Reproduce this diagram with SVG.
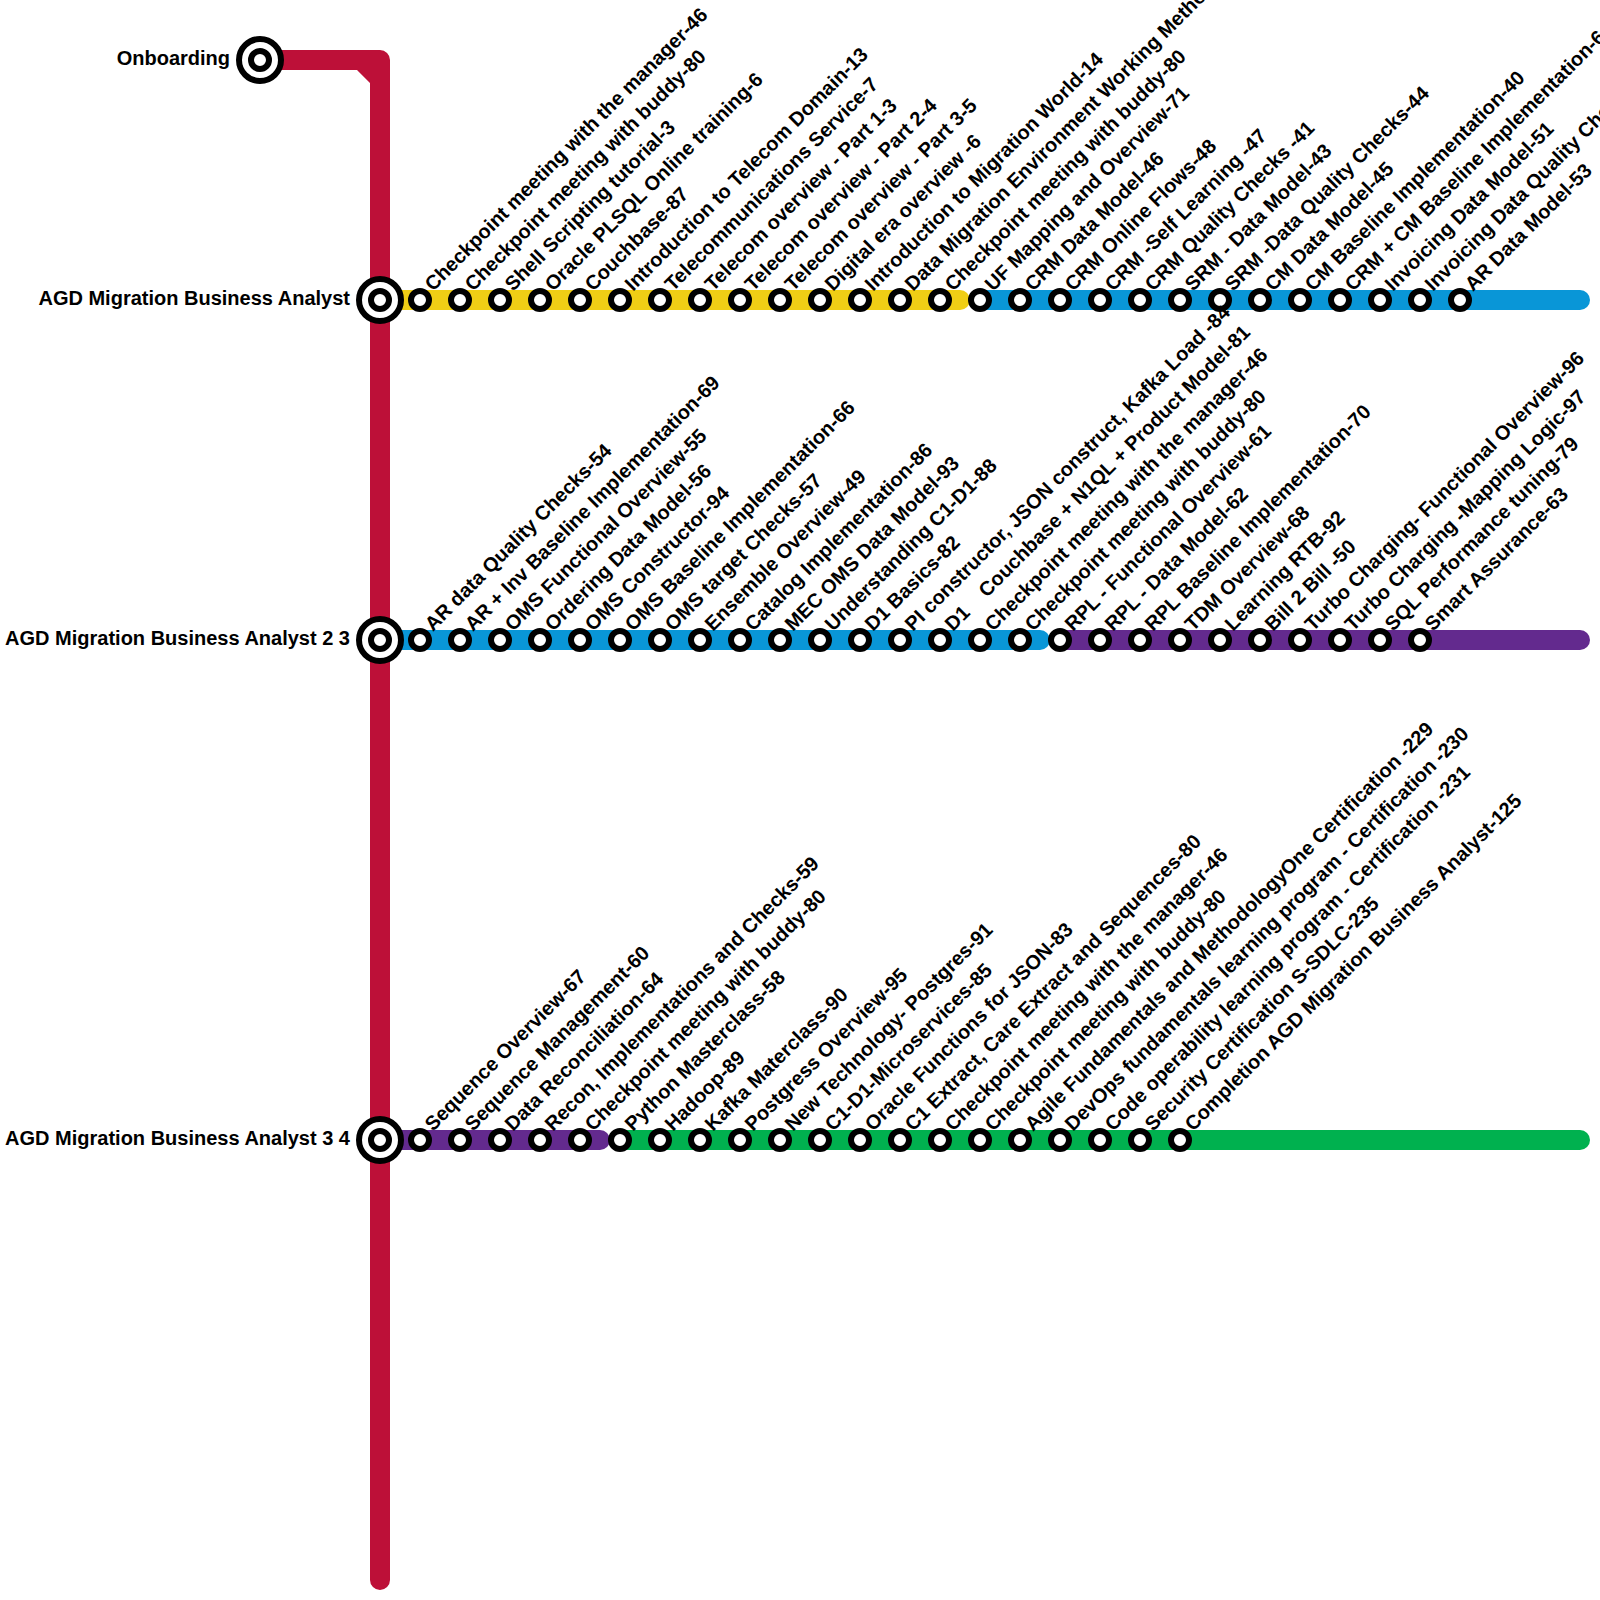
<svg xmlns="http://www.w3.org/2000/svg" width="1600" height="1600" viewBox="0 0 1600 1600">
<style>
text{font-family:"Liberation Sans",Arial,sans-serif;font-weight:bold;font-size:20px;fill:#000;white-space:pre}
.end{text-anchor:end}
.st{fill:#fff;stroke:#000;stroke-width:6}
.red{fill:#bd1038}.yel{fill:#f0ce15}.blu{fill:#0996d7}.pur{fill:#632a8e}.grn{fill:#00b14f}
</style>
<rect width="1600" height="1600" fill="#fff"/>
<g id="connectors">
<path class="red" d="M270 50H380A10 10 0 0 1 390 60V1580A10 10 0 0 1 370 1580V83L357 70H270Z"/>
<rect class="yel" x="380" y="290" width="590" height="20" rx="10"/>
<rect class="blu" x="970" y="290" width="620" height="20" rx="10"/>
<rect class="blu" x="380" y="630" width="670" height="20" rx="10"/>
<rect class="pur" x="1050" y="630" width="540" height="20" rx="10"/>
<rect class="pur" x="380" y="1130" width="230" height="20" rx="10"/>
<rect class="grn" x="610" y="1130" width="980" height="20" rx="10"/>
</g>
<g id="node-onboarding"><circle class="st" cx="260" cy="60" r="21"/><circle class="st" cx="260" cy="60" r="9"/><text class="end" x="230" y="65">Onboarding</text></g>
<g id="node-ba1"><circle class="st" cx="380" cy="300" r="21"/><circle class="st" cx="380" cy="300" r="9"/><text class="end" x="350" y="305">AGD Migration Business Analyst</text></g>
<g id="node-ba2"><circle class="st" cx="380" cy="640" r="21"/><circle class="st" cx="380" cy="640" r="9"/><text class="end" x="350" y="645">AGD Migration Business Analyst 2 3</text></g>
<g id="node-ba3"><circle class="st" cx="380" cy="1140" r="21"/><circle class="st" cx="380" cy="1140" r="9"/><text class="end" x="350" y="1145">AGD Migration Business Analyst 3 4</text></g>
<g id="row1">
<g id="r1-0"><circle class="st" cx="420" cy="300" r="9"/><text transform="translate(433 292) rotate(-45)">Checkpoint meeting with the manager-46</text></g>
<g id="r1-1"><circle class="st" cx="460" cy="300" r="9"/><text transform="translate(473 292) rotate(-45)">Checkpoint meeting with buddy-80</text></g>
<g id="r1-2"><circle class="st" cx="500" cy="300" r="9"/><text transform="translate(513 292) rotate(-45)">Shell Scripting tutorial-3</text></g>
<g id="r1-3"><circle class="st" cx="540" cy="300" r="9"/><text transform="translate(553 292) rotate(-45)">Oracle PLSQL Online training-6</text></g>
<g id="r1-4"><circle class="st" cx="580" cy="300" r="9"/><text transform="translate(593 292) rotate(-45)">Couchbase-87</text></g>
<g id="r1-5"><circle class="st" cx="620" cy="300" r="9"/><text transform="translate(633 292) rotate(-45)">Introduction to Telecom Domain-13</text></g>
<g id="r1-6"><circle class="st" cx="660" cy="300" r="9"/><text transform="translate(673 292) rotate(-45)">Telecommunications Service-7</text></g>
<g id="r1-7"><circle class="st" cx="700" cy="300" r="9"/><text transform="translate(713 292) rotate(-45)">Telecom overview - Part 1-3</text></g>
<g id="r1-8"><circle class="st" cx="740" cy="300" r="9"/><text transform="translate(753 292) rotate(-45)">Telecom overview - Part 2-4</text></g>
<g id="r1-9"><circle class="st" cx="780" cy="300" r="9"/><text transform="translate(793 292) rotate(-45)">Telecom overview - Part 3-5</text></g>
<g id="r1-10"><circle class="st" cx="820" cy="300" r="9"/><text transform="translate(833 292) rotate(-45)">Digital era overview -6</text></g>
<g id="r1-11"><circle class="st" cx="860" cy="300" r="9"/><text transform="translate(873 292) rotate(-45)">Introduction to Migration World-14</text></g>
<g id="r1-12"><circle class="st" cx="900" cy="300" r="9"/><text transform="translate(913 292) rotate(-45)">Data Migration Environment Working Methods</text></g>
<g id="r1-13"><circle class="st" cx="940" cy="300" r="9"/><text transform="translate(953 292) rotate(-45)">Checkpoint meeting with buddy-80</text></g>
<g id="r1-14"><circle class="st" cx="980" cy="300" r="9"/><text transform="translate(993 292) rotate(-45)">UF Mapping and Overview-71</text></g>
<g id="r1-15"><circle class="st" cx="1020" cy="300" r="9"/><text transform="translate(1033 292) rotate(-45)">CRM Data Model-46</text></g>
<g id="r1-16"><circle class="st" cx="1060" cy="300" r="9"/><text transform="translate(1073 292) rotate(-45)">CRM Online Flows-48</text></g>
<g id="r1-17"><circle class="st" cx="1100" cy="300" r="9"/><text transform="translate(1113 292) rotate(-45)">CRM -Self Learning -47</text></g>
<g id="r1-18"><circle class="st" cx="1140" cy="300" r="9"/><text transform="translate(1153 292) rotate(-45)">CRM Quality Checks -41</text></g>
<g id="r1-19"><circle class="st" cx="1180" cy="300" r="9"/><text transform="translate(1193 292) rotate(-45)">SRM - Data Model-43</text></g>
<g id="r1-20"><circle class="st" cx="1220" cy="300" r="9"/><text transform="translate(1233 292) rotate(-45)">SRM -Data Quality Checks-44</text></g>
<g id="r1-21"><circle class="st" cx="1260" cy="300" r="9"/><text transform="translate(1273 292) rotate(-45)">CM Data Model-45</text></g>
<g id="r1-22"><circle class="st" cx="1300" cy="300" r="9"/><text transform="translate(1313 292) rotate(-45)">CM Baseline Implementation-40</text></g>
<g id="r1-23"><circle class="st" cx="1340" cy="300" r="9"/><text transform="translate(1353 292) rotate(-45)">CRM + CM Baseline Implementation-6</text></g>
<g id="r1-24"><circle class="st" cx="1380" cy="300" r="9"/><text transform="translate(1393 292) rotate(-45)">Invoicing Data Model-51</text></g>
<g id="r1-25"><circle class="st" cx="1420" cy="300" r="9"/><text transform="translate(1433 292) rotate(-45)">Invoicing Data Quality Checks</text></g>
<g id="r1-26"><circle class="st" cx="1460" cy="300" r="9"/><text transform="translate(1473 292) rotate(-45)">AR Data Model-53</text></g>
</g>
<g id="row2">
<g id="r2-0"><circle class="st" cx="420" cy="640" r="9"/><text transform="translate(433 632) rotate(-45)">AR data Quality Checks-54</text></g>
<g id="r2-1"><circle class="st" cx="460" cy="640" r="9"/><text transform="translate(473 632) rotate(-45)">AR + Inv Baseline Implementation-69</text></g>
<g id="r2-2"><circle class="st" cx="500" cy="640" r="9"/><text transform="translate(513 632) rotate(-45)">OMS Functional Overview-55</text></g>
<g id="r2-3"><circle class="st" cx="540" cy="640" r="9"/><text transform="translate(553 632) rotate(-45)">Ordering Data Model-56</text></g>
<g id="r2-4"><circle class="st" cx="580" cy="640" r="9"/><text transform="translate(593 632) rotate(-45)">OMS Constructor-94</text></g>
<g id="r2-5"><circle class="st" cx="620" cy="640" r="9"/><text transform="translate(633 632) rotate(-45)">OMS Baseline Implementation-66</text></g>
<g id="r2-6"><circle class="st" cx="660" cy="640" r="9"/><text transform="translate(673 632) rotate(-45)">OMS target Checks-57</text></g>
<g id="r2-7"><circle class="st" cx="700" cy="640" r="9"/><text transform="translate(713 632) rotate(-45)">Ensemble Overview-49</text></g>
<g id="r2-8"><circle class="st" cx="740" cy="640" r="9"/><text transform="translate(753 632) rotate(-45)">Catalog Implementation-86</text></g>
<g id="r2-9"><circle class="st" cx="780" cy="640" r="9"/><text transform="translate(793 632) rotate(-45)">MEC OMS Data Model-93</text></g>
<g id="r2-10"><circle class="st" cx="820" cy="640" r="9"/><text transform="translate(833 632) rotate(-45)">Understanding C1-D1-88</text></g>
<g id="r2-11"><circle class="st" cx="860" cy="640" r="9"/><text transform="translate(873 632) rotate(-45)">D1 Basics-82</text></g>
<g id="r2-12"><circle class="st" cx="900" cy="640" r="9"/><text transform="translate(913 632) rotate(-45)">PI constructor, JSON construct, Kafka Load -84</text></g>
<g id="r2-13"><circle class="st" cx="940" cy="640" r="9"/><text transform="translate(953 632) rotate(-45)">D1    Couchbase + N1QL + Product Model-81</text></g>
<g id="r2-14"><circle class="st" cx="980" cy="640" r="9"/><text transform="translate(993 632) rotate(-45)">Checkpoint meeting with the manager-46</text></g>
<g id="r2-15"><circle class="st" cx="1020" cy="640" r="9"/><text transform="translate(1033 632) rotate(-45)">Checkpoint meeting with buddy-80</text></g>
<g id="r2-16"><circle class="st" cx="1060" cy="640" r="9"/><text transform="translate(1073 632) rotate(-45)">RPL - Functional Overview-61</text></g>
<g id="r2-17"><circle class="st" cx="1100" cy="640" r="9"/><text transform="translate(1113 632) rotate(-45)">RPL - Data Model-62</text></g>
<g id="r2-18"><circle class="st" cx="1140" cy="640" r="9"/><text transform="translate(1153 632) rotate(-45)">RPL Baseline Implementation-70</text></g>
<g id="r2-19"><circle class="st" cx="1180" cy="640" r="9"/><text transform="translate(1193 632) rotate(-45)">TDM Overview-68</text></g>
<g id="r2-20"><circle class="st" cx="1220" cy="640" r="9"/><text transform="translate(1233 632) rotate(-45)">Learning RTB-92</text></g>
<g id="r2-21"><circle class="st" cx="1260" cy="640" r="9"/><text transform="translate(1273 632) rotate(-45)">Bill 2 Bill -50</text></g>
<g id="r2-22"><circle class="st" cx="1300" cy="640" r="9"/><text transform="translate(1313 632) rotate(-45)">Turbo Charging- Functional Overview-96</text></g>
<g id="r2-23"><circle class="st" cx="1340" cy="640" r="9"/><text transform="translate(1353 632) rotate(-45)">Turbo Charging -Mapping Logic-97</text></g>
<g id="r2-24"><circle class="st" cx="1380" cy="640" r="9"/><text transform="translate(1393 632) rotate(-45)">SQL Performance tuning-79</text></g>
<g id="r2-25"><circle class="st" cx="1420" cy="640" r="9"/><text transform="translate(1433 632) rotate(-45)">Smart Assurance-63</text></g>
</g>
<g id="row3">
<g id="r3-0"><circle class="st" cx="420" cy="1140" r="9"/><text transform="translate(433 1132) rotate(-45)">Sequence Overview-67</text></g>
<g id="r3-1"><circle class="st" cx="460" cy="1140" r="9"/><text transform="translate(473 1132) rotate(-45)">Sequence Management-60</text></g>
<g id="r3-2"><circle class="st" cx="500" cy="1140" r="9"/><text transform="translate(513 1132) rotate(-45)">Data Reconciliation-64</text></g>
<g id="r3-3"><circle class="st" cx="540" cy="1140" r="9"/><text transform="translate(553 1132) rotate(-45)">Recon, Implementations and Checks-59</text></g>
<g id="r3-4"><circle class="st" cx="580" cy="1140" r="9"/><text transform="translate(593 1132) rotate(-45)">Checkpoint meeting with buddy-80</text></g>
<g id="r3-5"><circle class="st" cx="620" cy="1140" r="9"/><text transform="translate(633 1132) rotate(-45)">Python Masterclass-58</text></g>
<g id="r3-6"><circle class="st" cx="660" cy="1140" r="9"/><text transform="translate(673 1132) rotate(-45)">Hadoop-89</text></g>
<g id="r3-7"><circle class="st" cx="700" cy="1140" r="9"/><text transform="translate(713 1132) rotate(-45)">Kafka Materclass-90</text></g>
<g id="r3-8"><circle class="st" cx="740" cy="1140" r="9"/><text transform="translate(753 1132) rotate(-45)">Postgress Overview-95</text></g>
<g id="r3-9"><circle class="st" cx="780" cy="1140" r="9"/><text transform="translate(793 1132) rotate(-45)">New Technology- Postgres-91</text></g>
<g id="r3-10"><circle class="st" cx="820" cy="1140" r="9"/><text transform="translate(833 1132) rotate(-45)">C1-D1-Microservices-85</text></g>
<g id="r3-11"><circle class="st" cx="860" cy="1140" r="9"/><text transform="translate(873 1132) rotate(-45)">Oracle Functions for JSON-83</text></g>
<g id="r3-12"><circle class="st" cx="900" cy="1140" r="9"/><text transform="translate(913 1132) rotate(-45)">C1 Extract, Care Extract and Sequences-80</text></g>
<g id="r3-13"><circle class="st" cx="940" cy="1140" r="9"/><text transform="translate(953 1132) rotate(-45)">Checkpoint meeting with the manager-46</text></g>
<g id="r3-14"><circle class="st" cx="980" cy="1140" r="9"/><text transform="translate(993 1132) rotate(-45)">Checkpoint meeting with buddy-80</text></g>
<g id="r3-15"><circle class="st" cx="1020" cy="1140" r="9"/><text transform="translate(1033 1132) rotate(-45)">Agile Fundamentals and MethodologyOne Certification -229</text></g>
<g id="r3-16"><circle class="st" cx="1060" cy="1140" r="9"/><text transform="translate(1073 1132) rotate(-45)">DevOps fundamentals learning program - Certification -230</text></g>
<g id="r3-17"><circle class="st" cx="1100" cy="1140" r="9"/><text transform="translate(1113 1132) rotate(-45)">Code operability learning program - Certification -231</text></g>
<g id="r3-18"><circle class="st" cx="1140" cy="1140" r="9"/><text transform="translate(1153 1132) rotate(-45)">Security Certification S-SDLC-235</text></g>
<g id="r3-19"><circle class="st" cx="1180" cy="1140" r="9"/><text transform="translate(1193 1132) rotate(-45)">Completion AGD Migration Business Analyst-125</text></g>
</g>
</svg>
